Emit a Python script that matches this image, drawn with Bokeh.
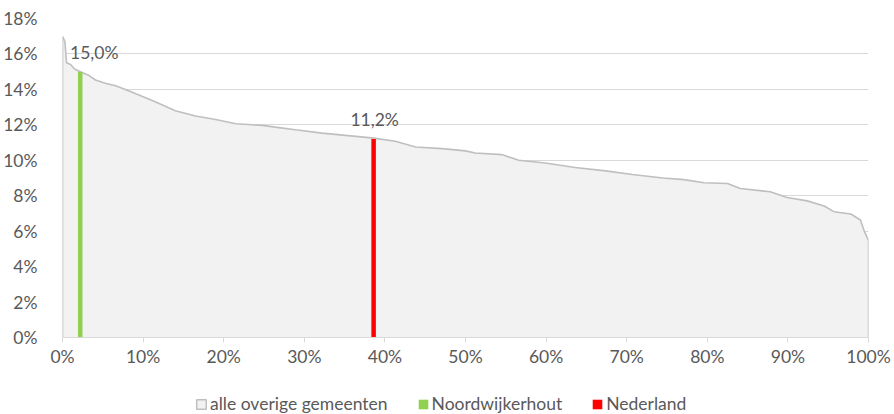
from bokeh.plotting import figure
from bokeh.layouts import column
from bokeh.models import Range1d, FixedTicker, Legend, LegendItem, ColumnDataSource
from bokeh.core.properties import value
from bokeh.embed import file_html
from bokeh.resources import INLINE

# share of municipalities (x, %) and value (y, %)
pct = [0, 0.3, 0.5, 1.0, 1.5, 2.2, 3.3, 4.1, 5.3, 6.6, 7.8, 9.1, 11.5, 14.0, 16.5, 19.0,
       21.5, 24.8, 26.4, 28.9, 32.2, 36.4, 38.6, 41.3, 43.8, 47.1, 50.0, 51.2, 54.5,
       56.6, 59.9, 63.6, 67.4, 70.7, 74.5, 77.1, 79.6, 82.5, 84.1, 87.8, 89.9, 92.4,
       94.5, 95.7, 97.8, 99.0, 99.5, 100]
val = [17.0, 16.7, 15.5, 15.4, 15.15, 15.0, 14.78, 14.53, 14.35, 14.2, 14.0, 13.75, 13.3,
       12.8, 12.5, 12.3, 12.06, 11.97, 11.87, 11.72, 11.53, 11.35, 11.25, 11.07, 10.75,
       10.66, 10.53, 10.41, 10.32, 10.0, 9.85, 9.59, 9.40, 9.2, 9.0, 8.91, 8.73, 8.69,
       8.41, 8.22, 7.9, 7.71, 7.42, 7.1, 6.97, 6.63, 5.97, 5.47]

marker_names = ["Noordwijkerhout", "Nederland"]
marker_x = [2.2, 38.6]
marker_val = [15.0, 11.2]
marker_labels = ["15,0%", "11,2%"]
marker_colors = ["#92D050", "#FF0000"]
series_name = "alle overige gemeenten"

x_ticks = list(range(0, 101, 10))
x_tick_labels = [f"{t}%" for t in x_ticks]
y_ticks = list(range(0, 19, 2))
y_tick_labels = [f"{t}%" for t in y_ticks]

FONT = "Lato"
FS = "17.5px"
TXT = "#595959"
GRID = "#D9D9D9"

p = figure(width=894, height=378, output_backend="svg", toolbar_location=None,
           x_range=Range1d(0, 100), y_range=Range1d(0, 18),
           min_border_left=61, min_border_right=26, min_border_top=18, min_border_bottom=41)
p.outline_line_color = None
p.background_fill_color = "white"
p.border_fill_color = "white"

p.xgrid.grid_line_color = None
p.ygrid.grid_line_color = GRID
p.ygrid.grid_line_width = 1
p.ygrid.ticker = FixedTicker(ticks=y_ticks)

p.xaxis.ticker = FixedTicker(ticks=x_ticks)
p.xaxis.major_label_overrides = dict(zip(x_ticks, x_tick_labels))
p.xaxis.axis_line_color = GRID
p.xaxis.major_tick_line_color = GRID
p.xaxis.major_tick_in = 0
p.xaxis.major_tick_out = 5
p.xaxis.minor_tick_line_color = None
p.xaxis.major_label_standoff = 3

p.yaxis.ticker = FixedTicker(ticks=y_ticks)
p.yaxis.major_label_overrides = dict(zip(y_ticks, y_tick_labels))
p.yaxis.axis_line_color = None
p.yaxis.major_tick_line_color = None
p.yaxis.minor_tick_line_color = None
p.yaxis.major_label_standoff = 19

for ax in (p.xaxis, p.yaxis):
    ax.major_label_text_font = FONT
    ax.major_label_text_font_size = FS
    ax.major_label_text_color = TXT

# area
p.varea(x=pct, y1=[0] * len(pct), y2=val, fill_color="#F2F2F2")
p.line(x=[pct[0]] + pct + [pct[-1]], y=[0] + val + [0], line_color="#BFBFBF", line_width=1.6)

# marker lines
msrc = ColumnDataSource(dict(x=marker_x, y=marker_val, c=marker_colors,
                             y0=[0] * len(marker_x)))
p.segment(x0="x", y0="y0", x1="x", y1="y", line_color="c", line_width=4.5, source=msrc)

lsrc1 = ColumnDataSource(dict(x=marker_x[:1], y=marker_val[:1], lab=marker_labels[:1]))
lsrc2 = ColumnDataSource(dict(x=marker_x[1:], y=marker_val[1:], lab=marker_labels[1:]))
for src, xo, yo in ((lsrc1, 14, -19), (lsrc2, 1, -20)):
    p.text(x="x", y="y", text="lab", source=src, x_offset=xo, y_offset=yo,
           text_align="center", text_baseline="middle", text_font=value(FONT),
           text_font_size=FS, text_color=TXT)

# legend figure (its frame is aligned with the main frame by the column layout)
lf = figure(width=894, height=36, output_backend="svg", toolbar_location=None,
            x_range=Range1d(0, 1), y_range=Range1d(0, 1),
            min_border_left=0, min_border_right=0, min_border_top=0, min_border_bottom=0)
lf.axis.visible = False
lf.grid.grid_line_color = None
lf.outline_line_color = None
lf.background_fill_color = "white"
lf.border_fill_color = "white"

# legend swatches: placeholder glyphs outside the visible range
off = dict(left=[5], right=[6], top=[6], bottom=[5])
r_area = lf.quad(**off, fill_color="#F2F2F2", line_color="#BFBFBF", line_width=1.5)
r_g = lf.quad(**off, fill_color=marker_colors[0], line_color=None)
r_r = lf.quad(**off, fill_color=marker_colors[1], line_color=None)

legend = Legend(items=[LegendItem(label=series_name, renderers=[r_area]),
                       LegendItem(label=marker_names[0], renderers=[r_g]),
                       LegendItem(label=marker_names[1], renderers=[r_r])],
                orientation="horizontal", location=(133, 0),
                glyph_width=12, glyph_height=12, label_standoff=3, spacing=29,
                padding=0, margin=0, border_line_color=None, background_fill_alpha=0,
                label_text_font=FONT, label_text_font_size=FS, label_text_color=TXT,
                label_height=12)
lf.add_layout(legend, "center")

layout = column(p, lf, spacing=0)
open("out.html", "w").write(file_html(layout, INLINE))
